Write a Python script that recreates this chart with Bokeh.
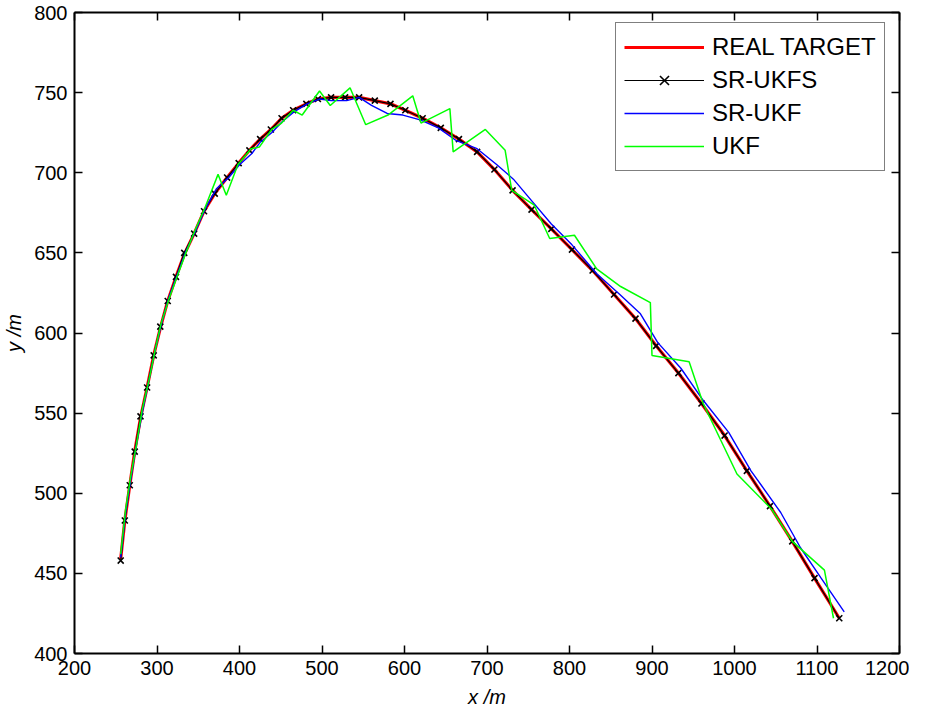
from bokeh.plotting import figure
from bokeh.models import LinearAxis, FixedTicker, Range1d, Legend, LegendItem
from bokeh.embed import file_html
from bokeh.resources import INLINE

# ---- data ----
real_x = [256, 261, 267, 273, 280, 288, 296, 304, 313, 323, 333, 345, 357, 370, 385, 399, 412, 425, 438, 451,
          465, 481, 495, 511, 528, 545, 564, 583, 601, 622, 644, 666, 688, 709, 731, 754, 778, 803, 828, 854,
          880, 905, 932, 960, 988, 1015, 1043, 1070, 1097, 1127]
real_y = [459, 483, 505, 526, 547, 566, 586, 603, 620, 635, 649, 662, 676, 687, 697, 706, 714, 721, 727, 734,
          739, 743, 746, 747, 747, 747, 745, 743, 739, 734, 728, 721, 713, 702, 689, 677, 665, 652, 639, 624,
          609, 592, 575, 556, 536, 514, 492, 470, 447, 422]

srukfs_x = [256, 261, 267, 273, 280, 288, 296, 304, 313, 323, 333, 345, 357, 370, 385, 399, 412, 425, 438, 451,
            465, 481, 495, 511, 528, 545, 564, 583, 601, 622, 644, 666, 688, 709, 731, 754, 778, 803, 828, 854,
            880, 905, 932, 960, 988, 1015, 1043, 1070, 1097, 1127]
srukfs_y = [458, 483, 505, 526, 548, 566, 586, 604, 620, 635, 650, 662, 676, 687, 697, 706, 714, 721, 727, 734,
            739, 743, 746, 747, 747, 747, 745, 743, 739, 734, 728, 721, 713, 702, 689, 677, 665, 652, 639, 624,
            609, 592, 575, 556, 536, 514, 492, 470, 447, 422]

srukf_x = [256, 262, 268, 275, 282, 290, 298, 306, 315, 325, 335, 347, 358, 372, 387, 400, 415, 425, 439, 452,
           466, 482, 497, 511, 530, 545, 560, 579, 598, 619, 641, 663, 688, 712, 732, 755, 778, 803, 833, 861,
           886, 907, 935, 962, 993, 1020, 1056, 1080, 1105, 1133]
srukf_y = [460, 488, 508, 530, 550, 570, 590, 607, 623, 637, 651, 664, 677, 690, 697, 705, 712, 719, 725, 732,
           738, 743, 746, 745, 745, 747, 742, 737, 736, 733, 728, 720, 715, 705, 696, 682, 668, 655, 637, 624,
           612, 594, 578, 558, 538, 514, 488, 466, 447, 426]

ukf_x = [256, 262, 268, 275, 282, 290, 298, 305, 315, 325, 335, 346, 358, 374, 384, 398, 414, 424, 439, 451,
         465, 476, 497, 510, 534, 553, 580, 610, 620, 655, 659, 698, 722, 730, 757, 776, 806, 833, 862, 898,
         900, 945, 962, 1003, 1045, 1070, 1109, 1120]
ukf_y = [462, 490, 510, 530, 552, 570, 590, 606, 622, 636, 650, 664, 678, 699, 686, 705, 715, 716, 727, 731,
         739, 736, 751, 742, 753, 730, 736, 748, 731, 740, 713, 727, 714, 689, 680, 659, 661, 640, 629, 619,
         586, 582, 556, 512, 490, 470, 452, 422]

x_ticks = [200, 300, 400, 500, 600, 700, 800, 900, 1000, 1100, 1200]
y_ticks = [400, 450, 500, 550, 600, 650, 700, 750, 800]

FONT = "Liberation Sans"
TICK_SIZE = "20px"
LEG_SIZE = "24px"

p = figure(width=909, height=710, x_range=Range1d(200, 1200), y_range=Range1d(400, 800),
           output_backend="svg", toolbar_location=None,
           min_border_left=65, min_border_right=10, min_border_top=12, min_border_bottom=54)
p.xgrid.visible = False
p.ygrid.visible = False
p.outline_line_color = None
p.background_fill_color = "white"

def style_axis(ax, ticks, show_labels=True):
    ax.ticker = FixedTicker(ticks=ticks)
    ax.axis_line_color = "black"
    ax.axis_line_width = 2
    ax.major_tick_line_color = "black"
    ax.major_tick_line_width = 1.5
    ax.major_tick_in = 8
    ax.major_tick_out = 0
    ax.minor_tick_line_color = None
    ax.major_label_text_font = FONT
    ax.major_label_text_color = "black"
    if show_labels:
        ax.major_label_text_font_size = TICK_SIZE
        ax.major_label_standoff = 7
    else:
        ax.major_label_text_font_size = "0px"
        ax.major_label_standoff = 0
        ax.major_label_text_alpha = 0

style_axis(p.xaxis[0], x_ticks)
style_axis(p.yaxis[0], y_ticks)

p.xaxis[0].axis_label = "x /m"
p.yaxis[0].axis_label = "y /m"
for ax in (p.xaxis[0], p.yaxis[0]):
    ax.axis_label_text_font = FONT
    ax.axis_label_text_font_size = TICK_SIZE
    ax.axis_label_text_font_style = "italic"
    ax.axis_label_text_color = "black"
p.xaxis[0].axis_label_standoff = 8
p.yaxis[0].axis_label_standoff = 6

top_ax = LinearAxis()
style_axis(top_ax, x_ticks, show_labels=False)
p.add_layout(top_ax, "above")
right_ax = LinearAxis()
style_axis(right_ax, y_ticks, show_labels=False)
p.add_layout(right_ax, "right")

r_real = p.line(real_x, real_y, line_color="#FF0000", line_width=3.2)
r_s_line = p.line(srukfs_x, srukfs_y, line_color="black", line_width=1.2)
r_s_mark = p.scatter(srukfs_x, srukfs_y, marker="x", size=8.5, line_color="black", line_width=1.6)
r_b = p.line(srukf_x, srukf_y, line_color="#0000FF", line_width=1.4)
r_g = p.line(ukf_x, ukf_y, line_color="#00FF00", line_width=1.5)

legend = Legend(items=[
    LegendItem(label="REAL TARGET", renderers=[r_real]),
    LegendItem(label="SR-UKFS", renderers=[r_s_line, r_s_mark]),
    LegendItem(label="SR-UKF", renderers=[r_b]),
    LegendItem(label="UKF", renderers=[r_g]),
], location=(541, 482))
legend.margin = 0
legend.padding = 8
legend.spacing = 1
legend.glyph_width = 80
legend.glyph_height = 32
legend.label_height = 32
legend.label_standoff = 8
legend.label_text_font = FONT
legend.label_text_font_size = LEG_SIZE
legend.label_text_color = "black"
legend.border_line_color = "black"
legend.border_line_width = 1.5
legend.background_fill_color = "white"
legend.background_fill_alpha = 1
p.add_layout(legend)

open("out.html", "w").write(file_html(p, INLINE))
